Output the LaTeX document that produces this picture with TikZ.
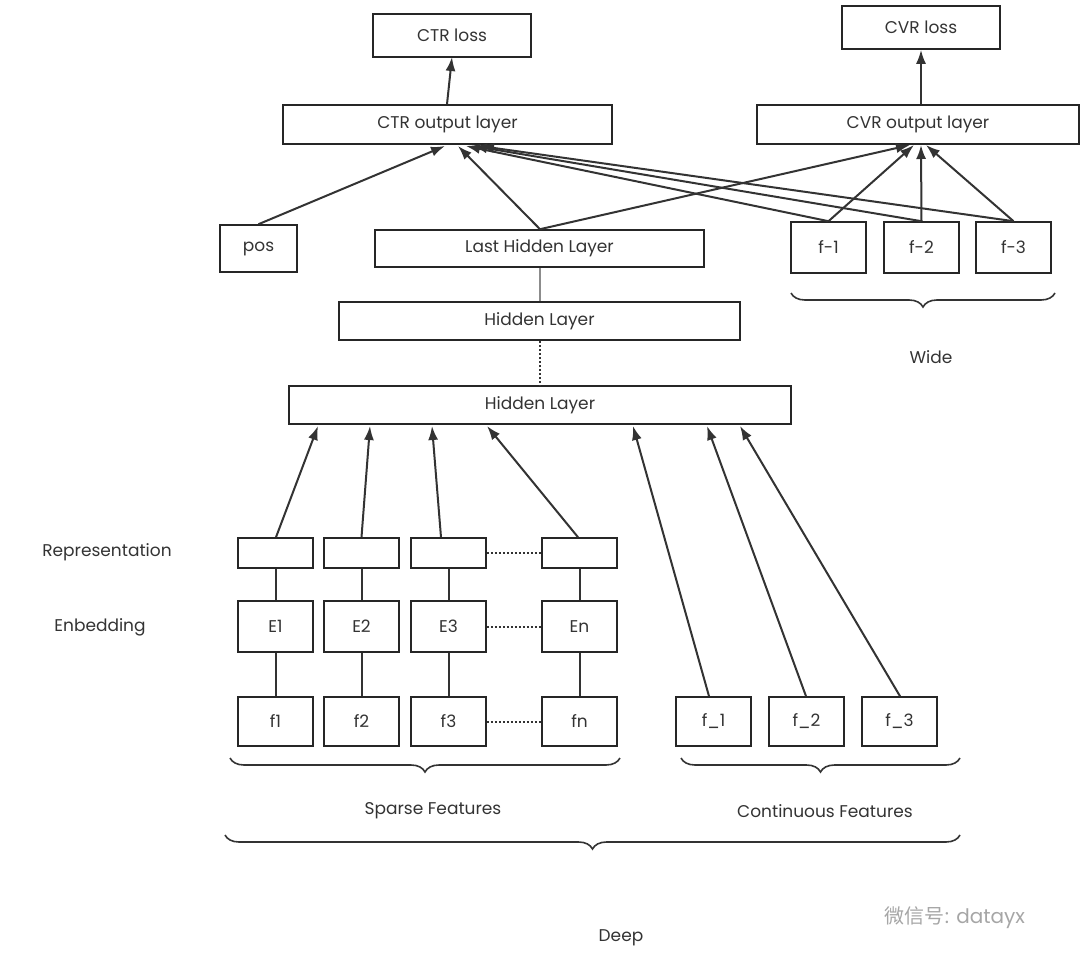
\documentclass[tikz,border=0pt]{standalone}
\usepackage{fontspec}
\setmainfont{Poppins}
\newfontfamily\cjk{Noto Sans CJK SC}
\usetikzlibrary{arrows.meta,decorations.pathreplacing}
\begin{document}
\begin{tikzpicture}[x=1pt,y=-1pt,
  bx/.style={draw=black!85,line width=1.6pt,inner sep=0pt,font=\fontsize{17}{20}\selectfont,text=black!80},
  arr/.style={-{Latex[length=14pt,width=10pt]},line width=2pt,draw=black!80},
  ln/.style={line width=2pt,draw=black!80},
  dt/.style={line width=2pt,dotted,draw=black!80},
  br/.style={decorate,decoration={brace,mirror,amplitude=14pt},line width=1.6pt,draw=black!80},
  lb/.style={font=\fontsize{17}{20}\selectfont,text=black!80}]
\useasboundingbox (0,0) rectangle (1080,971);
\newcommand\bb[6]{\node[bx,minimum width=#4-#2,minimum height=#5-#3] (#1) at ({(#2+#4)/2},{(#3+#5)/2}) {#6};}
\bb{ctrloss}{373}{14}{531}{57}{CTR loss}
\bb{cvrloss}{842}{6}{1000}{49}{CVR loss}
\bb{ctrout}{283}{105}{612}{144}{CTR output layer}
\bb{cvrout}{757}{105}{1079}{144}{CVR output layer}
\bb{pos}{220}{225}{297}{272}{pos}
\bb{lhl}{375}{230}{704}{267}{Last Hidden Layer}
\bb{wa}{791}{222}{866}{273}{f-1}
\bb{wb}{884}{222}{959}{273}{f-2}
\bb{wc}{976}{222}{1051}{273}{f-3}
\bb{hl}{339}{302}{740}{340}{Hidden Layer}
\bb{hlb}{289}{386}{791}{424}{Hidden Layer}
\bb{ra}{238}{538}{313}{568}{}
\bb{rb}{324}{538}{399}{568}{}
\bb{rc}{411}{538}{486}{568}{}
\bb{rn}{542}{538}{617}{568}{}
\bb{ea}{238}{601}{313}{652}{E1}
\bb{eb}{324}{601}{399}{652}{E2}
\bb{ec}{411}{601}{486}{652}{E3}
\bb{en}{542}{601}{617}{652}{En}
\bb{fa}{238}{697}{313}{746}{f1}
\bb{fb}{324}{697}{399}{746}{f2}
\bb{fc}{411}{697}{486}{746}{f3}
\bb{fn}{542}{697}{617}{746}{fn}
\bb{ca}{676}{697}{751}{746}{f\_1}
\bb{cb}{769}{697}{844}{746}{f\_2}
\bb{cc}{862}{697}{937}{746}{f\_3}
\node[lb] (rep) at (107,552) {Representation};
\node[lb] (emb) at (100,627) {Enbedding};
% top arrows
\draw[arr] (ctrout.north -| 447,0) -- (452,57);
\draw[arr] (cvrout.north -| 921,0) -- (cvrloss.south -| 921,0);
\draw[arr] (pos.north) -- (445,146);
\draw[arr] (lhl.north -| 540,0) -- (458,146);
\draw[arr] (wa.north) -- (466,146);
\draw[arr] (wb.north) -- (473,146);
\draw[arr] (wc.north) -- (480,146);
\draw[arr] (lhl.north -| 540,0) -- (910,145);
\draw[arr] (wa.north) -- (914,145);
\draw[arr] (wb.north) -- (921,145);
\draw[arr] (wc.north) -- (926,145);
\draw[line width=1.4pt,black!45] (lhl.south -| 540,0) -- (hl.north -| 540,0);
\draw[dt] (hl.south -| 540,0) -- (hlb.north -| 540,0);
% to hidden layer
\draw[arr] (ra.north -| 276,0) -- (318,426);
\draw[arr] (rb.north) -- (370,426);
\draw[arr] (rc.north -| 441,0) -- (432,426);
\draw[arr] (rn.north -| 578,0) -- (487,426);
\draw[arr] (ca.north -| 709,0) -- (633,426);
\draw[arr] (cb.north -| 806,0) -- (707,426);
\draw[arr] (cc.north -| 900,0) -- (740,426);
% verticals
\foreach \r/\e/\f in {ra/ea/fa,rb/eb/fb,rc/ec/fc,rn/en/fn}{
  \draw[ln] (\r.south) -- (\e.north);
  \draw[ln] (\e.south) -- (\f.north);}
\draw[dt] (rc.east) -- (rn.west);
\draw[dt] (ec.east) -- (en.west);
\draw[dt] (fc.east) -- (fn.west);
% braces
\draw[br] (791,293) -- (1055,293);
\node[lb] (wide) at (931,357) {Wide};
\draw[br] (230,758) -- (620,758);
\node[lb] (sparse) at (433,811) {Sparse Features};
\draw[br] (681,758) -- (960,758);
\node[lb] (cont) at (825,811) {Continuous Features};
\draw[br] (225,835) -- (960,835);
\node[lb] (deep) at (621,938) {Deep};
\node[font=\fontsize{20}{24}\selectfont,text=black!35] (wm) at (955,918) {{\cjk 微信号}: datayx};
\end{tikzpicture}
\end{document}
